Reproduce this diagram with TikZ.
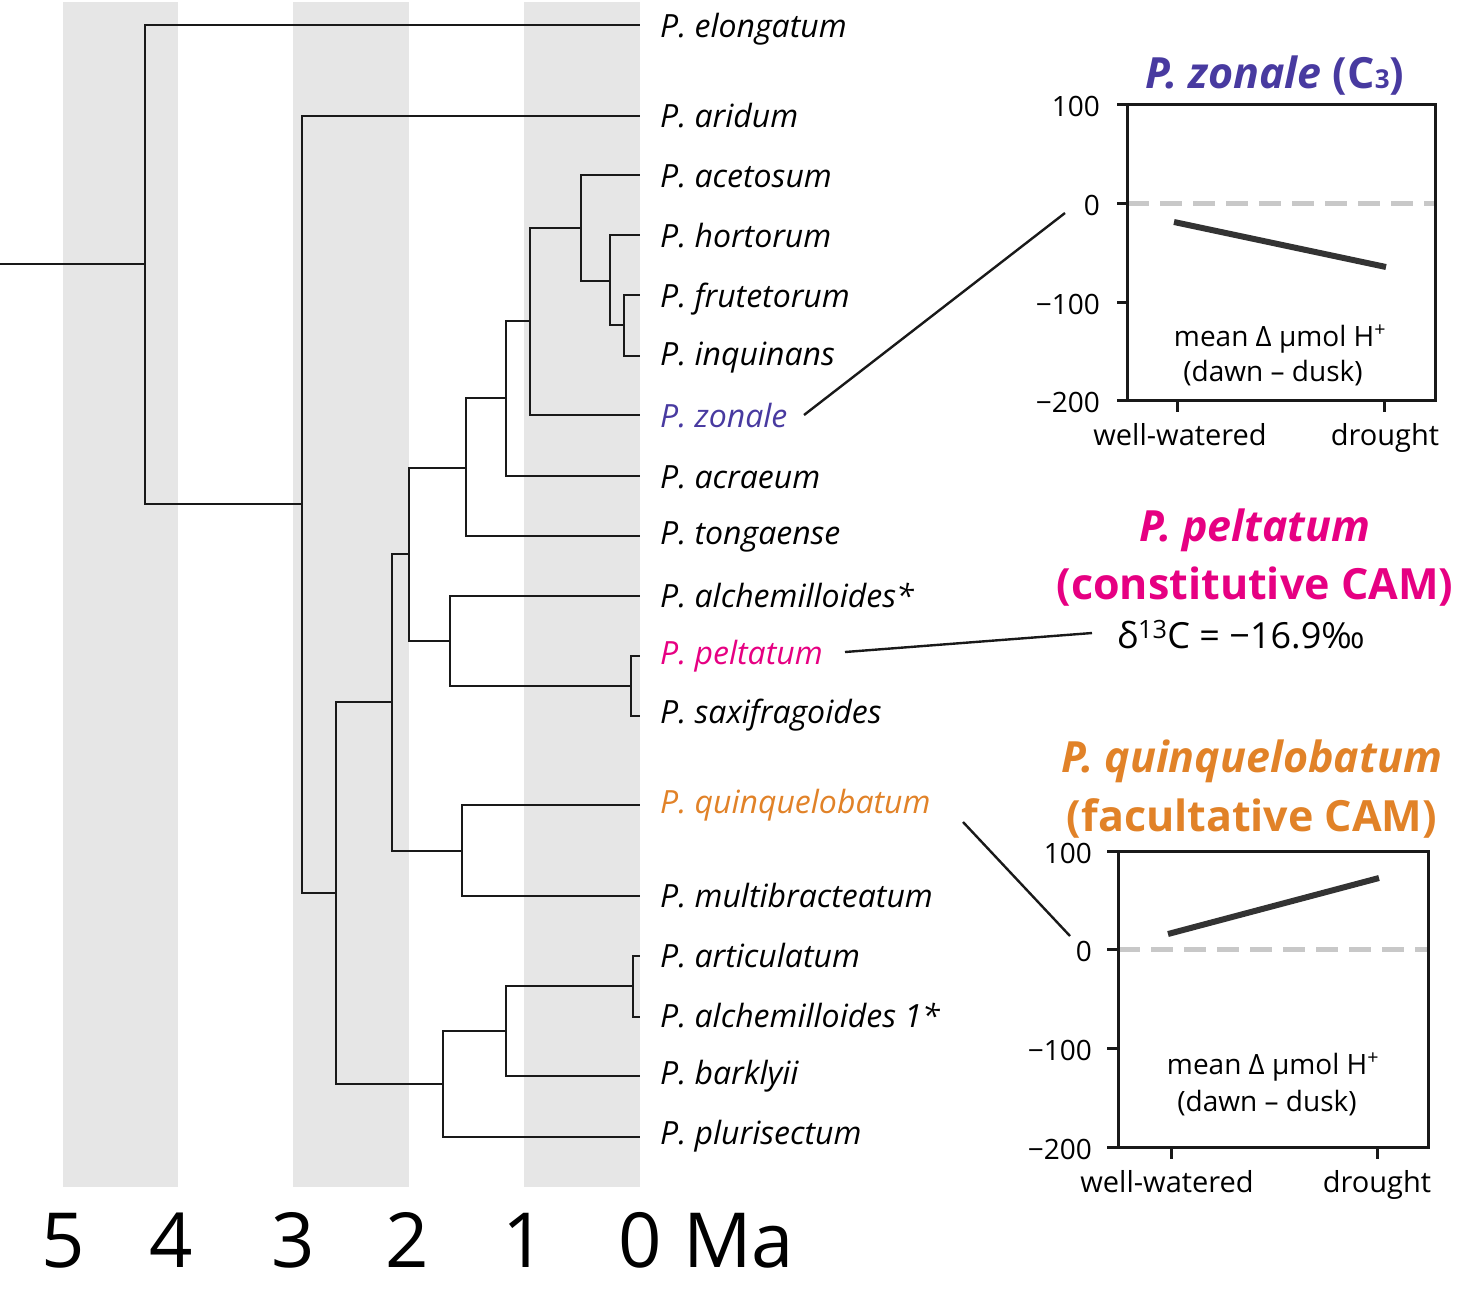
\documentclass[tikz,border=0pt]{standalone}
\usepackage{fontspec}
\setmainfont{Open Sans}
\definecolor{band}{RGB}{230,230,230}
\definecolor{zcol}{RGB}{72,58,160}
\definecolor{pcol}{RGB}{230,0,130}
\definecolor{qcol}{RGB}{225,130,40}
\definecolor{dashgrey}{RGB}{200,200,200}
\definecolor{datagrey}{RGB}{51,51,51}
\definecolor{ink}{RGB}{25,25,25}
\begin{document}
\begin{tikzpicture}[x=1pt,y=-1pt,
  br/.style={line width=2.4pt, draw=ink},
  lab/.style={anchor=base west, inner sep=0pt, font=\fontsize{32}{36}\selectfont\itshape},
  axisline/.style={line width=3pt, draw=ink},
  dashline/.style={line width=5pt, draw=dashgrey, dash pattern=on 22pt off 11pt},
  dataline/.style={line width=6pt, draw=datagrey},
  ticklab/.style={anchor=east, inner sep=0pt, font=\fontsize{28}{30}\selectfont},
  xlab/.style={anchor=base, inner sep=0pt, font=\fontsize{29}{32}\selectfont},
  note/.style={anchor=base, inner sep=0pt, font=\fontsize{28}{30}\selectfont},
  ttl/.style={anchor=base, inner sep=0pt, font=\fontsize{43}{48}\selectfont\bfseries},
  agelab/.style={anchor=base, inner sep=0pt, font=\fontsize{76}{80}\selectfont},
  conn/.style={line width=2.4pt, draw=ink}]
\useasboundingbox (0,0) rectangle (1461,1291);
% grey age bands
\fill[band] (63,2) rectangle (178,1187);
\fill[band] (293,2) rectangle (409,1187);
\fill[band] (524,2) rectangle (640,1187);
% internal nodes
\coordinate (stem) at (0,264);
\coordinate (root) at (145,264);
\coordinate (A) at (302,504);
\coordinate (B) at (336,893);
\coordinate (C) at (392,702);
\coordinate (D) at (409,554);
\coordinate (F) at (466,468);
\coordinate (H) at (506,398);
\coordinate (I) at (530,321);
\coordinate (J) at (581,228);
\coordinate (K) at (610,281);
\coordinate (L) at (624,325);
\coordinate (G) at (450,641);
\coordinate (M) at (631,686);
\coordinate (E) at (462,851);
\coordinate (Q) at (443,1084);
\coordinate (R) at (506,1031);
\coordinate (S) at (633,986);
% leaf tips
\coordinate (t1) at (640,25);
\coordinate (t2) at (640,116);
\coordinate (t3) at (640,175);
\coordinate (t4) at (640,235);
\coordinate (t5) at (640,295);
\coordinate (t6) at (640,356);
\coordinate (t7) at (640,415);
\coordinate (t8) at (640,476);
\coordinate (t9) at (640,536);
\coordinate (t10) at (640,596);
\coordinate (t11) at (640,656);
\coordinate (t12) at (640,716);
\coordinate (t13) at (640,805);
\coordinate (t14) at (640,896);
\coordinate (t15) at (640,956);
\coordinate (t16) at (640,1017);
\coordinate (t17) at (640,1076);
\coordinate (t18) at (640,1137);
% tree
\draw[br] (stem) -- (root);
\draw[br] (root) |- (t1);  \draw[br] (root) |- (A);
\draw[br] (A) |- (t2);     \draw[br] (A) |- (B);
\draw[br] (B) |- (C);      \draw[br] (B) |- (Q);
\draw[br] (C) |- (D);      \draw[br] (C) |- (E);
\draw[br] (D) |- (F);      \draw[br] (D) |- (G);
\draw[br] (F) |- (H);      \draw[br] (F) |- (t9);
\draw[br] (H) |- (I);      \draw[br] (H) |- (t8);
\draw[br] (I) |- (J);      \draw[br] (I) |- (t7);
\draw[br] (J) |- (t3);     \draw[br] (J) |- (K);
\draw[br] (K) |- (t4);     \draw[br] (K) |- (L);
\draw[br] (L) |- (t5);     \draw[br] (L) |- (t6);
\draw[br] (G) |- (t10);    \draw[br] (G) |- (M);
\draw[br] (M) |- (t11);    \draw[br] (M) |- (t12);
\draw[br] (E) |- (t13);    \draw[br] (E) |- (t14);
\draw[br] (Q) |- (R);      \draw[br] (Q) |- (t18);
\draw[br] (R) |- (S);      \draw[br] (R) |- (t17);
\draw[br] (S) |- (t15);    \draw[br] (S) |- (t16);
% leaf labels
\node[lab] (l1) at (660,37) {P. elongatum};
\node[lab] (l2) at (660,127) {P. aridum};
\node[lab] (l3) at (660,187) {P. acetosum};
\node[lab] (l4) at (660,247) {P. hortorum};
\node[lab] (l5) at (660,307) {P. frutetorum};
\node[lab] (l6) at (660,365) {P. inquinans};
\node[lab, text=zcol] (l7) at (660,427) {P. zonale};
\node[lab] (l8) at (660,488) {P. acraeum};
\node[lab] (l9) at (660,544) {P. tongaense};
\node[lab] (l10) at (660,607) {P. alchemilloides*};
\node[lab, text=pcol] (l11) at (660,664) {P. peltatum};
\node[lab] (l12) at (660,723) {P. saxifragoides};
\node[lab, text=qcol] (l13) at (660,813) {P. quinquelobatum};
\node[lab] (l14) at (660,907) {P. multibracteatum};
\node[lab] (l15) at (660,967) {P. articulatum};
\node[lab] (l16) at (660,1027) {P. alchemilloides 1*};
\node[lab] (l17) at (660,1084) {P. barklyii};
\node[lab] (l18) at (660,1144) {P. plurisectum};
% age axis
\node[agelab] (a5) at (63,1267) {5};
\node[agelab] (a4) at (171,1267) {4};
\node[agelab] (a3) at (293,1267) {3};
\node[agelab] (a2) at (407,1267) {2};
\node[agelab] (a1) at (524,1267) {1};
\node[agelab] (a0) at (640,1267) {0};
\node[agelab, anchor=base west] (ma) at (683,1267) {Ma};
% ---- panel 1: P. zonale
\node[ttl, text=zcol] (tz) at (1275,88) {\itshape P. zonale \normalfont\bfseries(C{\fontsize{26}{26}\selectfont 3})};
\draw[dashline] (1127,203) -- (1435,203);
\draw[dataline] (1174,222) -- (1386,267);
\draw[axisline] (1127,104) rectangle (1435,400);
\foreach \yy in {104,203,302,400} \draw[axisline] (1117,\yy) -- (1127,\yy);
\draw[axisline] (1177,400) -- (1177,412);
\draw[axisline] (1384,400) -- (1384,412);
\node[ticklab] (z100) at (1100,106) {100};
\node[ticklab] (z0) at (1100,205) {0};
\node[ticklab] (zm100) at (1100,304) {−100};
\node[ticklab] (zm200) at (1100,402) {−200};
\node[note] (zn1) at (1280,346) {mean Δ µmol H\textsuperscript{+}};
\node[note] (zn2) at (1273,381) {(dawn – dusk)};
\node[xlab] (zx1) at (1180,445) {well-watered};
\node[xlab] (zx2) at (1385,445) {drought};
\coordinate (zc1) at (804,415);
\coordinate (zc2) at (1065,213);
\draw[conn] (zc1) -- (zc2);
% ---- panel 2: P. peltatum
\node[ttl, text=pcol] (tp1) at (1255,541) {\itshape P. peltatum};
\node[ttl, text=pcol] (tp2) at (1255,599) {(constitutive CAM)};
\node[anchor=base west, inner sep=0pt, font=\fontsize{36}{40}\selectfont] (d13) at (1117,648) {δ\textsuperscript{13}C = −16.9‰};
\coordinate (pc1) at (845,652);
\coordinate (pc2) at (1092,633);
\draw[conn] (pc1) -- (pc2);
% ---- panel 3: P. quinquelobatum
\node[ttl, text=qcol] (tq1) at (1252,772) {\itshape P. quinquelobatum};
\node[ttl, text=qcol] (tq2) at (1252,831) {(facultative CAM)};
\draw[dashline] (1118,949) -- (1428,949);
\draw[dataline] (1168,934) -- (1379,878);
\draw[axisline] (1118,851) rectangle (1428,1147);
\foreach \yy in {851,949,1048,1147} \draw[axisline] (1107,\yy) -- (1118,\yy);
\draw[axisline] (1171,1147) -- (1171,1159);
\draw[axisline] (1377,1147) -- (1377,1159);
\node[ticklab] (q100) at (1092,853) {100};
\node[ticklab] (q0) at (1092,951) {0};
\node[ticklab] (qm100) at (1092,1050) {−100};
\node[ticklab] (qm200) at (1092,1149) {−200};
\node[note] (qn1) at (1273,1074) {mean Δ µmol H\textsuperscript{+}};
\node[note] (qn2) at (1267,1111) {(dawn – dusk)};
\node[xlab] (qx1) at (1167,1192) {well-watered};
\node[xlab] (qx2) at (1377,1192) {drought};
\coordinate (qc1) at (963,822);
\coordinate (qc2) at (1070,936);
\draw[conn] (qc1) -- (qc2);
\end{tikzpicture}
\end{document}
